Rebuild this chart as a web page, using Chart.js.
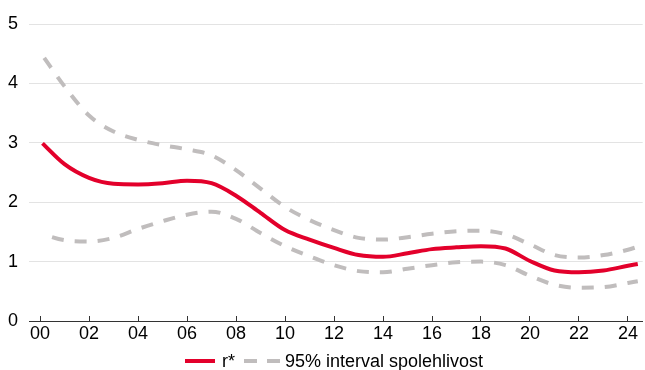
<!DOCTYPE html>
<html>
<head>
<meta charset="utf-8">
<script src="https://cdn.jsdelivr.net/npm/chart.js@4/dist/chart.umd.min.js"></script>
<style>
  html, body { margin: 0; padding: 0; background: #fff; }
  #wrap { position: relative; width: 645px; height: 370px; }
  canvas { position: absolute; left: 0; top: 0; }
  #legend { position: absolute; left: 185px; top: 351px; height: 20px; display: flex; align-items: center;
            font-family: "Liberation Sans", Arial, sans-serif; font-size: 18px; color: #000; white-space: nowrap; }
  .red { width: 30px; height: 4px; background: #e3002b; margin-right: 7px; }
  .gd { width: 13px; height: 4px; background: #c0bdbd; }
  .gap { width: 10px; }
</style>
</head>
<body>
<div id="wrap">
  <canvas id="c" width="645" height="370"></canvas>
  <div id="legend">
    <span class="red"></span><span>r*</span>
    <span style="width:9px"></span>
    <span class="gd"></span><span class="gap"></span><span class="gd"></span>
    <span style="width:5px"></span><span>95% interval spolehlivost</span>
  </div>
</div>
<script>
// Years since 2000
const years = [0.1, 1, 2, 3, 4, 5, 6, 7, 8, 9, 10, 11, 12, 13, 14, 15, 16, 17, 18, 19, 20, 21, 22, 23, 24, 24.4];
const rStar = [2.99, 2.64, 2.41, 2.31, 2.30, 2.32, 2.36, 2.32, 2.11, 1.82, 1.53, 1.37, 1.23, 1.11, 1.08, 1.14, 1.21, 1.24, 1.26, 1.22, 1.01, 0.85, 0.82, 0.85, 0.93, 0.96];
const upper = [4.47, 3.95, 3.46, 3.19, 3.05, 2.96, 2.89, 2.79, 2.54, 2.23, 1.92, 1.70, 1.53, 1.40, 1.37, 1.41, 1.47, 1.51, 1.52, 1.46, 1.29, 1.11, 1.07, 1.11, 1.20, 1.25];
const lower = [1.46, 1.36, 1.34, 1.40, 1.55, 1.68, 1.79, 1.84, 1.72, 1.48, 1.26, 1.09, 0.94, 0.84, 0.82, 0.88, 0.94, 0.99, 1.00, 0.94, 0.76, 0.61, 0.56, 0.57, 0.64, 0.67];
const tickValues = [0, 2, 4, 6, 8, 10, 12, 14, 16, 18, 20, 22, 24];
const tickLabels = ["00", "02", "04", "06", "08", "10", "12", "14", "16", "18", "20", "22", "24"];

const pts = (ys) => years.map((x, i) => ({ x: x, y: ys[i] }));
const RED = '#e3002b', GRAY = '#c0bdbd';
const FONT = { family: '"Liberation Sans", Arial, sans-serif', size: 18 };

new Chart(document.getElementById('c'), {
  type: 'line',
  data: {
    datasets: [
      { label: 'upper', data: pts(upper), borderColor: GRAY, borderWidth: 4, borderDash: [12, 11], borderDashOffset: 20, pointRadius: 0, cubicInterpolationMode: 'monotone', fill: false },
      { label: 'lower', data: pts(lower), borderColor: GRAY, borderWidth: 4, borderDash: [12, 11], borderDashOffset: 13, pointRadius: 0, cubicInterpolationMode: 'monotone', fill: false },
      { label: 'r*', data: pts(rStar), borderColor: RED, borderWidth: 4, pointRadius: 0, cubicInterpolationMode: 'monotone', fill: false }
    ]
  },
  options: {
    responsive: false,
    animation: false,
    devicePixelRatio: 1,
    layout: { padding: { left: 8, right: 0, top: 24, bottom: 27 } },
    plugins: { legend: { display: false }, tooltip: { enabled: false } },
    scales: {
      x: {
        type: 'linear',
        min: -0.45,
        max: 24.6,
        afterBuildTicks: (s) => { s.ticks = tickValues.map(v => ({ value: v })); },
        afterFit: (s) => { s.height = 22; },
        ticks: {
          color: '#000', font: FONT, padding: 7, maxRotation: 0, autoSkip: false,
          callback: (v) => tickLabels[tickValues.indexOf(v)]
        },
        grid: { display: true, drawOnChartArea: false, drawTicks: true, tickLength: -5, color: '#333', lineWidth: 1 },
        border: { display: true, color: '#333', width: 1 }
      },
      y: {
        min: 0,
        max: 5,
        afterFit: (s) => { s.width = 21; },
        ticks: { stepSize: 1, color: '#000', font: FONT, crossAlign: 'far', padding: 0 },
        grid: { color: '#e3e3e3', lineWidth: 1, drawTicks: false },
        border: { display: false }
      }
    }
  }
});
</script>
</body>
</html>
